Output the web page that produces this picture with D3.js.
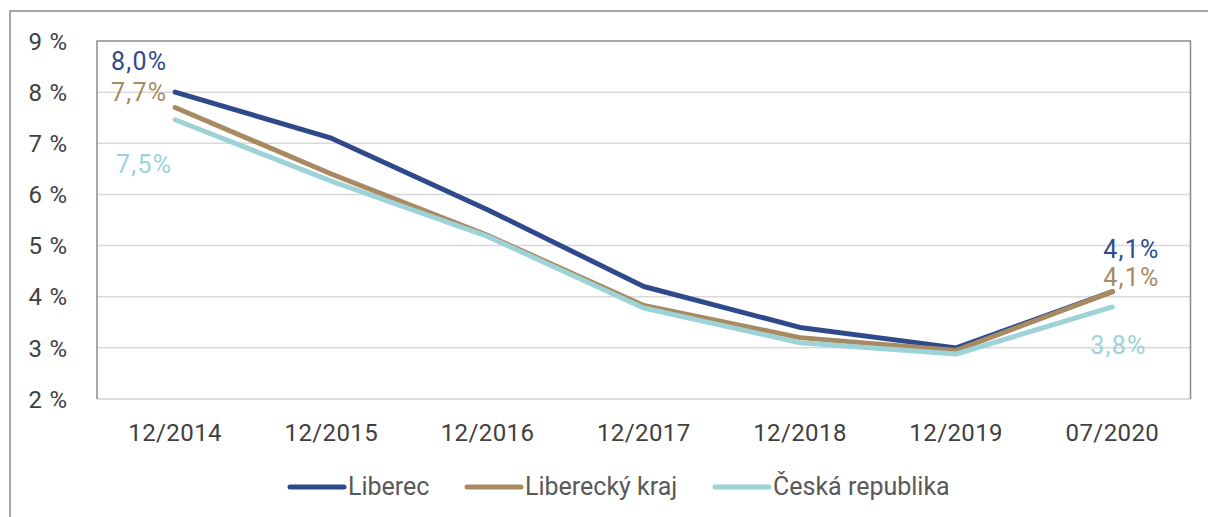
<!DOCTYPE html>
<html><head><meta charset="utf-8">
<script src="https://cdn.jsdelivr.net/npm/d3@7"></script>
<style>
html,body{margin:0;padding:0;background:#fff;}
svg{display:block;font-family:Roboto, "Liberation Sans", sans-serif;}
</style></head>
<body>
<svg id="chart" width="1208" height="517"></svg>
<script>
const categories = ["12/2014","12/2015","12/2016","12/2017","12/2018","12/2019","07/2020"];
const liberec = [8.0, 7.1, 5.7, 4.2, 3.4, 3.0, 4.1];
const liberecKraj = [7.7, 6.4, 5.2, 3.83, 3.2, 2.95, 4.1];
const ceskaRepublika = [7.46, 6.26, 5.18, 3.78, 3.1, 2.88, 3.8];
const seriesNames = ["Liberec","Liberecký kraj","Česká republika"];
const colors = ["#2f4a8b","#a88a62","#9dd3d7"];
const yTicks = [2,3,4,5,6,7,8,9];

const series = [liberec, liberecKraj, ceskaRepublika];
// label offsets [first, last] per series (dx, dy)
const labelOff = [
  [[-36,-22],[19,-34]],
  [[-36,-6],[19,-6]],
  [[-31,53],[6,47]]
];

const svg = d3.select("#chart");
const m = {left:97, top:41, right:1190.5, bottom:399};
const x = d3.scaleBand().domain(categories).range([m.left, m.right]);
const y = d3.scaleLinear().domain([2,9]).range([m.bottom, m.top]);

// outer border
svg.append("rect").attr("x",10).attr("y",11).attr("width",1230).attr("height",540)
  .attr("fill","none").attr("stroke","#8a8a8a").attr("stroke-width",1.5);

// gridlines
svg.append("g").selectAll("line").data(yTicks.filter(d=>d>2 && d<9)).join("line")
  .attr("x1",m.left).attr("x2",m.right)
  .attr("y1",d=>y(d)).attr("y2",d=>y(d))
  .attr("stroke","#d9d9d9").attr("stroke-width",1.5);

// bottom axis line
svg.append("line").attr("x1",m.left).attr("x2",m.right).attr("y1",y(2)).attr("y2",y(2))
  .attr("stroke","#d0d0d0").attr("stroke-width",1.5);
// frame left/top/right
svg.append("path")
  .attr("d",`M${m.left},${y(2)}V${y(9)}H${m.right}V${y(2)}`)
  .attr("fill","none").attr("stroke","#8c8c8c").attr("stroke-width",1.5);

// y axis labels
const yAxis = d3.axisLeft(y).tickValues(yTicks).tickSize(0).tickPadding(0)
  .tickFormat(d=>d+" %");
const gy = svg.append("g").attr("transform","translate(68,0)").call(yAxis);
gy.select(".domain").remove();
gy.selectAll("text").attr("font-size",24).attr("fill","#404040")
  .attr("font-family","Roboto, sans-serif").attr("letter-spacing",0.8).attr("dy","0.34em");

// x axis labels
const xAxis = d3.axisBottom(x).tickSize(0).tickPadding(0);
const gx = svg.append("g").attr("transform",`translate(0,${m.bottom})`).call(xAxis);
gx.select(".domain").remove();
gx.selectAll("text").attr("font-size",24).attr("fill","#404040")
  .attr("font-family","Roboto, sans-serif").attr("letter-spacing",0.4).attr("dy",null).attr("y",42);

// lines
const line = d3.line().x((d,i)=>x(categories[i])+x.bandwidth()/2).y(d=>y(d));
series.forEach((s,k)=>{
  svg.append("path").datum(s).attr("d",line)
    .attr("fill","none").attr("stroke",colors[k]).attr("stroke-width",5)
    .attr("stroke-linejoin","round").attr("stroke-linecap","round");
});

// data labels
const fmt = v => d3.format(".1f")(v).replace(".",",")+"%";
series.forEach((s,k)=>{
  [0, s.length-1].forEach((i,j)=>{
    const cx = x(categories[i])+x.bandwidth()/2 + labelOff[k][j][0];
    const cy = y(s[i]) + labelOff[k][j][1];
    svg.append("text").attr("x",cx).attr("y",cy).attr("text-anchor","middle")
      .attr("font-size",25).attr("letter-spacing",1.2).attr("fill",colors[k]).text(fmt(s[i]));
  });
});

// legend
const legX = [290, 467, 715];
const legY = 487;
seriesNames.forEach((n,k)=>{
  svg.append("line").attr("x1",legX[k]).attr("x2",legX[k]+54).attr("y1",legY).attr("y2",legY)
    .attr("stroke",colors[k]).attr("stroke-width",5).attr("stroke-linecap","round");
  svg.append("text").attr("x",legX[k]+58).attr("y",legY+8).attr("font-size",25)
    .attr("fill","#595959").text(n);
});
</script>
</body></html>
